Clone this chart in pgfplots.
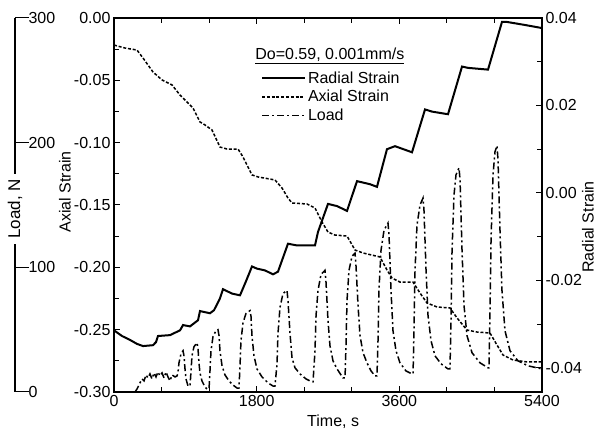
\documentclass[border=0pt]{standalone}
\usepackage{fontspec}
\setmainfont{Liberation Sans}
\usepackage{pgfplots}
\pgfplotsset{compat=1.18}
\newcommand{\fs}{\fontsize{16}{18.5}\selectfont}
\begin{document}
\begin{tikzpicture}
\pgfplotsset{
  base/.style={width=428pt, height=374pt, scale only axis, xmin=0, xmax=5400,
    at={(0pt,0pt)}, anchor=south west,
    tick align=inside, major tick length=6pt, minor tick length=5pt,
    every tick/.style={black, line width=1pt},
    axis line style={line width=1.4pt},
    tick label style={font=\fs}, label style={font=\fs},
    scaled ticks=false,
    /pgf/number format/assume math mode=true,
    /pgf/number format/set thousands separator={},
  },
  twodec/.style={yticklabel style={/pgf/number format/fixed, /pgf/number format/fixed zerofill, /pgf/number format/precision=2}},
  radst/.style={black, line width=2pt},
  axst/.style={black, line width=1.5pt, dash pattern=on 3pt off 1.8pt},
  ldst/.style={black, line width=1.5pt, dash pattern=on 7pt off 3pt on 2pt off 3pt},
}
% Load scale (outer left)
\begin{axis}[base, at={(-99pt,0pt)}, ymin=0, ymax=300,
  axis y line*=left, axis x line=none,
  ytick={0,100,200,300}, major tick length=14pt,
  yticklabel style={anchor=west, xshift=10pt},
  ylabel={Load, N},
  ylabel style={at={(axis description cs:0,0.49)}, anchor=center, fill=white, inner sep=5pt, font=\fontsize{17}{19}\selectfont}]
\end{axis}
% Main axis: axial strain
\begin{axis}[base, twodec, ymin=-0.30, ymax=0,
  xtick={0,1800,3600,5400}, minor xtick={600,1200,2400,3000,4200,4800},
  ytick={-0.30,-0.25,-0.20,-0.15,-0.10,-0.05,0},
  minor ytick={-0.275,-0.225,-0.175,-0.125,-0.075,-0.025},
  xtick pos=both, ytick pos=left,
  xlabel={Time, s}, ylabel={Axial Strain},
  xlabel style={at={(axis description cs:0.512,-0.08)}, anchor=center},
  ylabel style={at={(axis description cs:-0.1145,0.535)}, anchor=center},
  legend style={at={(axis description cs:0.343,0.862)}, anchor=north west,
    draw=none, fill=none, font=\fs, inner sep=0pt, row sep=1.5pt,
    nodes={inner sep=2pt}},
  legend cell align=left,
  legend image code/.code={\draw[#1] (0pt,0pt) -- (43pt,0pt);},
]
\addlegendimage{radst}
\addlegendentry{Radial Strain}
\addlegendimage{axst}
\addlegendentry{Axial Strain}
\addlegendimage{ldst}
\addlegendentry{Load}
\addplot[axst, forget plot] coordinates {
(0,-0.0217) (139,-0.0241) (290,-0.0257) (366,-0.0321) (492,-0.0433) (606,-0.0497)
(732,-0.0537) (833,-0.0618) (934,-0.0682) (997,-0.0722) (1085,-0.0834) (1148,-0.0858)
(1236,-0.0898) (1337,-0.1035) (1426,-0.1051) (1565,-0.1051) (1628,-0.1115) (1741,-0.1259)
(1817,-0.1275) (2031,-0.1299) (2120,-0.1364) (2195,-0.1444) (2246,-0.1484) (2435,-0.1492)
(2536,-0.1524) (2624,-0.1636) (2700,-0.1717) (2788,-0.1741) (2940,-0.1749) (3041,-0.1861)
(3142,-0.1885) (3356,-0.1917) (3444,-0.2021) (3508,-0.2086) (3608,-0.2118) (3772,-0.2118)
(3861,-0.2206) (3949,-0.2286) (4075,-0.2318) (4239,-0.2326) (4328,-0.2406) (4454,-0.2503)
(4580,-0.2519) (4744,-0.2527) (4832,-0.2623) (4908,-0.2703) (5034,-0.2743) (5211,-0.2759)
(5400,-0.2759)
};
\node[anchor=base west, font=\fs] at (axis description cs:0.322,0.888) {\underline{Do=0.59, 0.001mm/s}};
\end{axis}
% Radial strain (right)
\begin{axis}[base, twodec, ymin=-0.0455, ymax=0.04,
  axis y line*=right, axis x line=none,
  ytick={-0.04,-0.02,0,0.02,0.04}, minor ytick={-0.03,-0.01,0.01,0.03},
  ylabel={Radial Strain},
  ylabel style={at={(axis description cs:1.1075,0.441)}, anchor=center}]
\addplot[radst] coordinates {
(0,-0.0314) (101,-0.0327) (202,-0.0336) (290,-0.0345) (366,-0.0350) (492,-0.0348)
(530,-0.0341) (555,-0.0327) (707,-0.0325) (833,-0.0314) (871,-0.0302) (959,-0.0305)
(1060,-0.0291) (1085,-0.0270) (1211,-0.0275) (1262,-0.0268) (1337,-0.0241) (1375,-0.0220)
(1489,-0.0230) (1590,-0.0234) (1665,-0.0202) (1741,-0.0168) (1804,-0.0173) (1905,-0.0177)
(2006,-0.0186) (2069,-0.0180) (2195,-0.0116) (2309,-0.0120) (2536,-0.0120) (2574,-0.0089)
(2700,-0.0025) (2814,-0.0030) (2940,-0.0041) (3066,0.0027) (3230,0.0020) (3318,0.0014)
(3444,0.0100) (3545,0.0107) (3760,0.0093) (3924,0.0191) (4012,0.0186) (4214,0.0180)
(4391,0.0289) (4466,0.0286) (4719,0.0282) (4895,0.0391) (4958,0.0391) (5186,0.0384)
(5400,0.0377)
};
\end{axis}
% Load data
\begin{axis}[base, ymin=0, ymax=300, hide axis]
\addplot[ldst] coordinates {
(265,0) (290,2.4) (328,7.3) (353,10.5) (379,8.9) (404,13.7) (429,11.3) (454,14.5)
(479,10.5) (505,15.3) (530,12.1) (555,16.1) (580,12.9) (606,15.3) (631,11.3) (656,16.1)
(681,12.1) (707,8.9) (732,13.7) (770,12.1) (795,12.9)
(807,15.3) (820,23.4) (845,30.6) (871,33.1) (883,29.0) (896,18.5) (908,10.5) (934,4.8)
(959,4.8) (972,16.9) (984,29.0) (1009,36.3) (1047,39.5) (1060,34.7) (1072,23.4) (1085,15.3) (1110,8.9) (1148,4.0) (1173,2.4)
(1199,2.4) (1211,16.9) (1224,33.1) (1249,44.4) (1287,49.2) (1312,50.0) (1325,45.2) (1337,33.1) (1363,21.0) (1400,13.7) (1451,8.9) (1501,5.6) (1552,3.2)
(1577,3.2) (1590,21.0) (1602,41.1) (1628,55.6) (1665,62.9) (1716,65.3) (1729,60.5) (1741,45.2) (1766,29.0) (1804,18.5) (1867,12.1) (1943,7.3) (2006,4.8)
(2031,4.8) (2057,22.6) (2069,46.8) (2094,67.7) (2132,79.0) (2183,81.5) (2195,73.4) (2221,46.8) (2246,27.4) (2284,19.4) (2347,14.5) (2422,10.5) (2498,8.1)
(2511,8.1) (2536,33.1) (2549,61.3) (2574,81.5) (2612,94.4) (2662,97.6) (2675,87.9) (2700,57.3) (2725,37.1) (2763,25.0) (2814,18.5) (2864,13.7) (2889,11.3)
(2915,11.3) (2927,37.1) (2940,73.4) (2965,97.6) (3003,108.9) (3041,111.3) (3053,101.6) (3079,69.4) (3104,45.2) (3142,31.5) (3192,23.4) (3243,16.9) (3293,12.9)
(3318,12.9) (3331,41.1) (3343,81.5) (3369,113.7) (3407,129.8) (3457,135.5) (3470,125.8) (3495,81.5) (3520,49.2) (3558,33.1) (3608,23.4) (3684,16.9) (3760,14.5)
(3773,14.5) (3785,49.2) (3798,97.6) (3823,133.9) (3861,150.0) (3899,155.6) (3911,145.9) (3937,97.6) (3962,61.3) (4000,41.1) (4050,29.0) (4126,22.6) (4214,18.5)
(4239,18.5) (4252,57.3) (4265,113.7) (4290,158.1) (4315,174.2) (4353,179.8) (4366,170.2) (4391,113.7) (4416,69.4) (4454,45.2) (4517,31.5) (4618,23.4) (4719,19.4)
(4731,19.4) (4744,65.3) (4757,121.8) (4782,174.2) (4807,192.7) (4832,197.6) (4845,186.3) (4870,129.8) (4895,81.5) (4933,49.2) (4996,33.1) (5097,25.0) (5223,21.0) (5400,18.5)
};
\end{axis}
\pgfresetboundingbox
\path[use as bounding box] (-114pt,-39pt) rectangle (484pt,392pt);
\end{tikzpicture}
\end{document}
